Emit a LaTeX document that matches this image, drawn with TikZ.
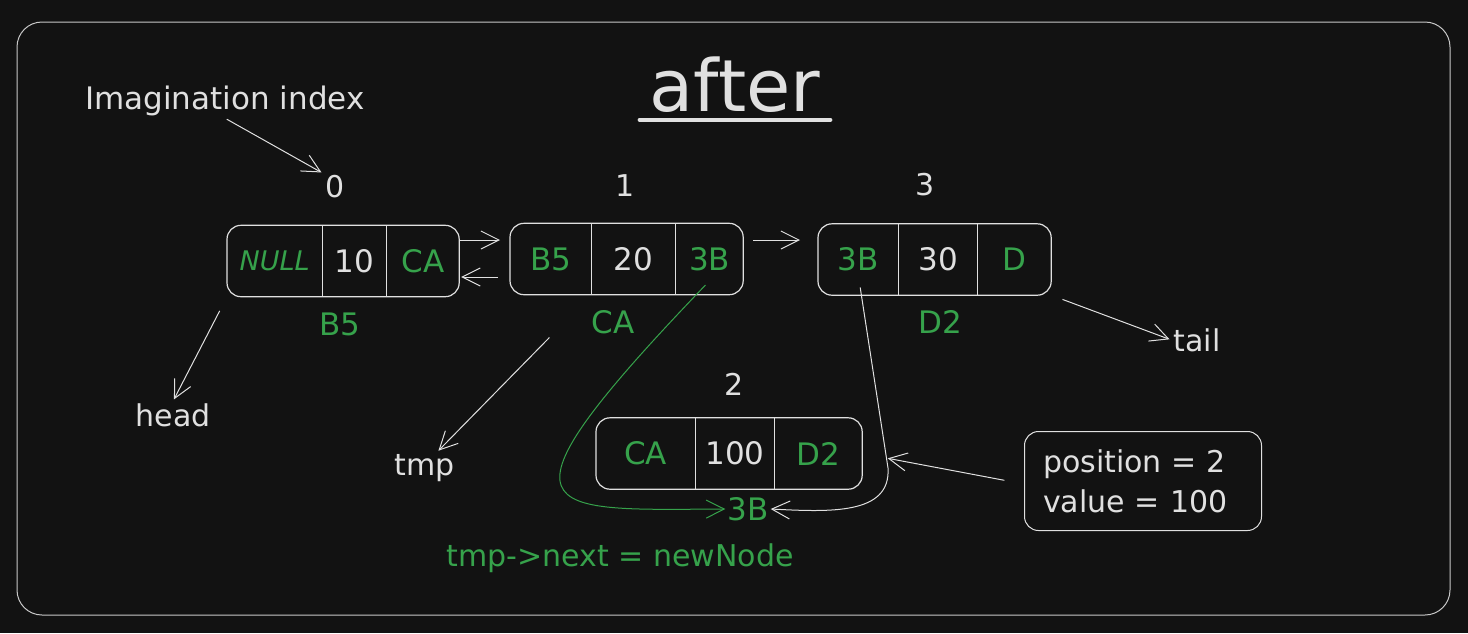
\documentclass[tikz,border=0pt]{standalone}
\usepackage{fontspec}
\setmainfont{DejaVu Sans}
\usetikzlibrary{positioning}
\usetikzlibrary{arrows.meta}
\definecolor{board}{HTML}{121212}
\definecolor{chalk}{HTML}{E0E0E0}
\definecolor{frame}{HTML}{C8C8C8}
\definecolor{addr}{HTML}{36A24B}
\tikzstyle{cell}=[minimum height=71pt, inner sep=0pt, text=chalk, font=\fontsize{31}{31}\selectfont]
\tikzstyle{ptr cell}=[cell, text=addr]
\tikzstyle{chalk text}=[inner sep=2pt, text=chalk, font=\fontsize{30}{40}\selectfont]
\tikzstyle{addr text}=[chalk text, text=addr, font=\fontsize{31}{31}\selectfont]
\tikzstyle{link edge}=[-{Straight Barb[length=18pt,width=18pt]}, chalk, line width=1pt]
\tikzstyle{next edge}=[link edge, addr]
\newcommand{\cellnode}[3][]{
  \node [cell, #1] (#2) {#3}
}
\newcommand{\listbox}[3]{
  \draw [chalk, line width=1.2pt, rounded corners=14pt] (#1.north west) rectangle (#3.south east);
  \draw [chalk, line width=0.8pt] (#1.north east) -- (#1.south east) (#2.north east) -- (#2.south east)
}

\begin{document}
\begin{tikzpicture}[x=1pt, y=-1pt, node distance=0pt]
        \fill [board] (0,0) rectangle (1468,633);
        \useasboundingbox (0,0) rectangle (1468,633);
        \draw [frame, line width=1pt, rounded corners=25pt] (17,22) rectangle (1450,615);

        % title
        \node [chalk text, font=\fontsize{72}{72}\selectfont, inner xsep=10pt] (title) at (735,85) {after};
        \draw [chalk, line width=4pt, line cap=round] ([yshift=-8pt]title.base west) -- ([yshift=-8pt]title.base east);

        % list nodes
        \cellnode[ptr cell, minimum width=95pt, anchor=west, at={(227,261)}]{n0a}{\fontsize{27}{27}\selectfont\itshape NULL};
        \cellnode[minimum width=64pt, right=of n0a]{n0b}{10};
        \cellnode[ptr cell, minimum width=72pt, right=of n0b]{n0c}{CA};
        \listbox{n0a}{n0b}{n0c};

        \cellnode[ptr cell, minimum width=81pt, anchor=west, at={(510,259)}]{n1a}{B5};
        \cellnode[minimum width=84pt, right=of n1a]{n1b}{20};
        \cellnode[ptr cell, minimum width=67pt, right=of n1b]{n1c}{3B};
        \listbox{n1a}{n1b}{n1c};

        \cellnode[ptr cell, minimum width=80pt, anchor=west, at={(818,259.5)}]{n3a}{3B};
        \cellnode[minimum width=79pt, right=of n3a]{n3b}{30};
        \cellnode[ptr cell, minimum width=73pt, right=of n3b]{n3c}{D};
        \listbox{n3a}{n3b}{n3c};

        \cellnode[ptr cell, minimum width=99pt, anchor=west, at={(596,453.5)}]{n2a}{CA};
        \cellnode[minimum width=79pt, right=of n2a]{n2b}{100};
        \cellnode[ptr cell, minimum width=87pt, right=of n2b]{n2c}{D2};
        \listbox{n2a}{n2b}{n2c};

        % indices and addresses
        \node [chalk text, font=\fontsize{31}{31}\selectfont] (imag) at (225,101) {Imagination index};
        \node [chalk text, font=\fontsize{30}{30}\selectfont] (idx0) at (335,187) {0};
        \node [chalk text, font=\fontsize{30}{30}\selectfont] (idx1) at (625,186) {1};
        \node [chalk text, font=\fontsize{30}{30}\selectfont] (idx3) at (925,185) {3};
        \node [chalk text, font=\fontsize{30}{30}\selectfont] (idx2) at (734,384) {2};
        \node [addr text] (addr0) at (340,324) {B5};
        \node [addr text] (addr1) at (613,322) {CA};
        \node [addr text] (addr3) at (940,322) {D2};
        \node [addr text] (addr2) at (748,509) {3B};

        \node [chalk text] (head) at (173,415) {head};
        \node [chalk text] (tmp) at (425,468) {tmp};
        \node [chalk text] (tail) at (1197,340) {tail};
        \node [chalk text, draw=chalk, line width=1pt, rounded corners=14pt, align=left, text width=200pt, minimum width=237pt, minimum height=99pt] (cond) at (1143,481) {position = 2\\value = 100};
        \node [addr text, font=\fontsize{30}{30}\selectfont] (caption) at (620,558) {tmp->next = newNode};

        \draw [link edge, shorten <=2pt, shorten >=2pt] (imag.south) -- (idx0.north west);
        \draw [link edge, shorten >=10pt] ([yshift=21pt]n0c.east) -- ([yshift=21pt]n0c.east -| n1a.west);
        \draw [link edge, shorten <=12pt, shorten >=2pt] ([yshift=-18pt]n1a.west) -- ([yshift=-18pt]n1a.west -| n0c.east);
        \draw [link edge, shorten <=10pt, shorten >=18pt] ([yshift=19pt]n1c.east) -- ([yshift=19pt]n1c.east -| n3a.west);

        \draw [link edge, shorten <=16pt, shorten >=2pt] (n0a.south west) -- (head.north);
        \draw [link edge, shorten <=60pt, shorten >=2pt] (n1b.south west) -- ([xshift=12pt]tmp.north);
        \draw [link edge, shorten <=12pt, shorten >=2pt] (n3c.south east) -- (tail.west);
        \draw [link edge, shorten <=20pt, shorten >=26pt] ([yshift=-3pt]cond.west) -- (n2c.east);

        \draw [next edge] ([shift={(-4pt,-26pt)}]n1c.center) .. controls (480,520) and (540,510) .. (addr2.west);
        \draw [link edge] ([shift={(2pt,-28pt)}]n3a.center) -- (888,468) .. controls (891,515) and (830,512) .. (addr2.east);
\end{tikzpicture}
\end{document}
